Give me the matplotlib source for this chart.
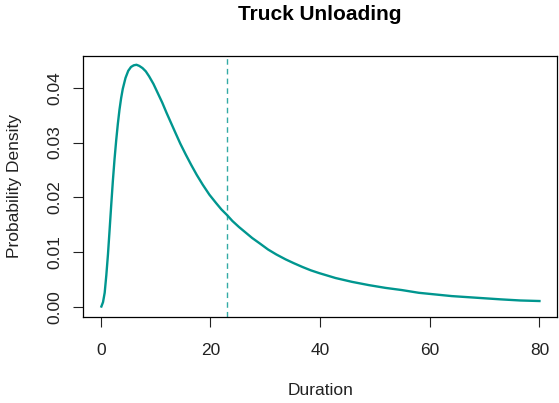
import matplotlib
matplotlib.use("Agg")
import matplotlib.pyplot as plt

# values
duration = [0.1, 0.4, 0.7, 1.0, 1.3, 1.6, 1.9, 2.2, 2.5, 2.8, 3.1, 3.4, 3.7, 4.0,
            4.5, 5.0, 5.5, 6.0, 6.5, 7.0, 7.6, 8.2, 8.8, 9.6, 10.4, 11.2, 12.0,
            12.8, 13.6, 14.5, 15.5, 16.5, 17.5, 18.6, 19.8, 21.0, 22.0, 23.0,
            24.0, 25.2, 26.4, 27.6, 29.0, 30.5, 32.0, 33.7, 35.2, 36.8, 38.3,
            39.8, 42.8, 45.8, 48.9, 51.9, 54.9, 58.0, 61.0, 64.0, 67.0, 70.0,
            73.0, 76.5, 80.0]
density = [0.0001, 0.0009, 0.0026, 0.0058, 0.0096, 0.0141, 0.0187, 0.0231,
           0.0270, 0.0304, 0.0334, 0.0360, 0.0381, 0.0398, 0.0418, 0.0431,
           0.0438, 0.0441, 0.0442, 0.0440, 0.0436, 0.0430, 0.0421, 0.0407,
           0.0390, 0.0373, 0.0354, 0.0336, 0.0318, 0.0298, 0.0278, 0.0259,
           0.0241, 0.0223, 0.0205, 0.0190, 0.0178, 0.0168, 0.0157, 0.0146,
           0.0136, 0.0126, 0.0116, 0.0105, 0.0096, 0.0087, 0.0080, 0.0073,
           0.0067, 0.0062, 0.0053, 0.0046, 0.0040, 0.0035, 0.0031, 0.0026,
           0.0023, 0.0020, 0.0018, 0.0016, 0.0014, 0.0012, 0.0011]
mean_duration = 23.0
xticks = [0, 20, 40, 60, 80]
yticks = [0.00, 0.01, 0.02, 0.03, 0.04]

col = "#00968f"
plt.rcParams['font.family'] = ['Liberation Sans', 'DejaVu Sans']

fig = plt.figure(figsize=(5.59, 4.03), dpi=100)
ax = fig.add_axes([0.149, 0.214, 0.8474, 0.648])

ax.plot(duration, density, color=col, lw=1.7, solid_joinstyle='round')
ax.axvline(mean_duration, color=col, lw=1.0, ls=(0, (4, 3)), alpha=0.8)

ax.set_xlim(-3.2, 83.2)
ax.set_ylim(-0.00177, 0.04587)
ax.set_xticks(xticks)
ax.set_xticklabels([str(t) for t in xticks])
ax.set_yticks(yticks)
ax.set_yticklabels(["%.2f" % t for t in yticks], rotation=90, va='center')
ax.tick_params(direction='out', length=7, width=0.8, labelsize=12.5,
               colors='#222222', pad=12)
ax.tick_params(axis='y', pad=8)
for s in ax.spines.values():
    s.set_linewidth(0.9)

ax.set_title("Truck Unloading", fontsize=15, fontweight='bold', pad=26)
ax.set_xlabel("Duration", fontsize=12.5, labelpad=18, color='#222222')
ax.set_ylabel("Probability Density", fontsize=12.5, labelpad=18, color='#222222')

fig.savefig("out.png", dpi=100)
